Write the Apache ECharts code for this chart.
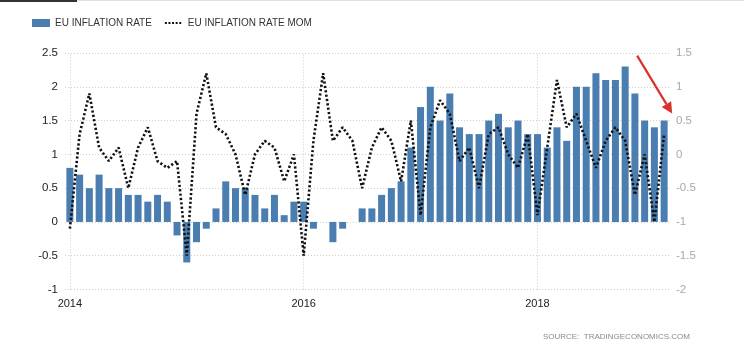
<!DOCTYPE html>
<html>
<head>
<meta charset="utf-8">
<script src="https://cdn.jsdelivr.net/npm/echarts@6/dist/echarts.min.js"></script>
<style>
html,body{margin:0;padding:0;background:#fff;}
#chart{width:744px;height:350px;}
</style>
</head>
<body>
<div id="chart"></div>
<script>
var months = [
 'Jan 2014','Feb 2014','Mar 2014','Apr 2014','May 2014','Jun 2014','Jul 2014','Aug 2014','Sep 2014','Oct 2014','Nov 2014','Dec 2014',
 'Jan 2015','Feb 2015','Mar 2015','Apr 2015','May 2015','Jun 2015','Jul 2015','Aug 2015','Sep 2015','Oct 2015','Nov 2015','Dec 2015',
 'Jan 2016','Feb 2016','Mar 2016','Apr 2016','May 2016','Jun 2016','Jul 2016','Aug 2016','Sep 2016','Oct 2016','Nov 2016','Dec 2016',
 'Jan 2017','Feb 2017','Mar 2017','Apr 2017','May 2017','Jun 2017','Jul 2017','Aug 2017','Sep 2017','Oct 2017','Nov 2017','Dec 2017',
 'Jan 2018','Feb 2018','Mar 2018','Apr 2018','May 2018','Jun 2018','Jul 2018','Aug 2018','Sep 2018','Oct 2018','Nov 2018','Dec 2018',
 'Jan 2019','Feb 2019'
];
var inflationRate = [
 0.8,0.7,0.5,0.7,0.5,0.5,0.4,0.4,0.3,0.4,0.3,-0.2,
 -0.6,-0.3,-0.1,0.2,0.6,0.5,0.5,0.4,0.2,0.4,0.1,0.3,
 0.3,-0.1,0.0,-0.3,-0.1,0.0,0.2,0.2,0.4,0.5,0.6,1.1,
 1.7,2.0,1.5,1.9,1.4,1.3,1.3,1.5,1.6,1.4,1.5,1.3,
 1.3,1.1,1.4,1.2,2.0,2.0,2.2,2.1,2.1,2.3,1.9,1.5,
 1.4,1.5
];
var inflationRateMom = [
 -1.1,0.3,0.9,0.1,-0.1,0.1,-0.5,0.1,0.4,-0.1,-0.2,-0.1,
 -1.5,0.6,1.2,0.4,0.3,0.0,-0.6,0.0,0.2,0.1,-0.4,0.0,
 -1.5,0.2,1.2,0.2,0.4,0.2,-0.5,0.1,0.4,0.2,-0.4,0.5,
 -0.9,0.4,0.8,0.6,-0.1,0.1,-0.5,0.3,0.4,0.0,-0.2,0.3,
 -0.9,0.1,1.1,0.4,0.6,0.2,-0.2,0.2,0.4,0.2,-0.6,0.0,
 -1.0,0.3
];
var tickMonths = ['Jan 2014','Jan 2016','Jan 2018'];
var tickLabels = ['2014','2016','2018'];
var seriesNames = ['EU INFLATION RATE','EU INFLATION RATE MOM'];
var sourceText = 'SOURCE:  TRADINGECONOMICS.COM';

var chart = echarts.init(document.getElementById('chart'), null, {renderer:'canvas'});
var FONT = '"Liberation Sans", Arial, sans-serif';
var gridLine = {show:true, lineStyle:{color:'#cfcfcf', type:[1,2], width:1}};

var option = {
  backgroundColor:'#ffffff',
  animation:false,
  textStyle:{fontFamily:FONT},
  title:[{
    text: sourceText,
    right: 49, top: 328,
    textStyle:{fontSize:8, fontWeight:'normal', color:'#8a8a8a', fontFamily:FONT}
  }],
  legend:{
    left: 27, top: 13,
    itemGap: 12,
    itemWidth: 18, itemHeight: 8,
    textStyle:{fontSize:10, color:'#333', fontFamily:FONT},
    data:[
      {name:seriesNames[0], icon:'rect'},
      {name:seriesNames[1], itemStyle:{opacity:0}, lineStyle:{color:'#111', width:2, type:[2,1.6]}}
    ]
  },
  grid:{left:65, right:75, top:53, bottom:60.5, containLabel:false},
  xAxis:{
    type:'category',
    data: months,
    boundaryGap:true,
    axisLine:{show:false},
    axisTick:{show:false},
    splitLine:{show:false},
    axisLabel:{
      interval:function(i, v){ return tickMonths.indexOf(v) >= 0; },
      formatter:function(v){ var k = tickMonths.indexOf(v); return k>=0 ? tickLabels[k] : ''; },
      color:'#222', fontSize:11, margin:9, fontFamily:FONT
    }
  },
  yAxis:[{
    type:'value', min:-1, max:2.5, interval:0.5, position:'left',
    axisLine:{show:false}, axisTick:{show:false},
    splitLine: gridLine,
    axisLabel:{color:'#222', fontSize:11.5, margin:7, fontFamily:FONT}
  },{
    type:'value', min:-2, max:1.5, interval:0.5, position:'right',
    axisLine:{show:false}, axisTick:{show:false},
    splitLine:{show:false},
    axisLabel:{color:'#a8a8a8', fontSize:11.5, margin:7, fontFamily:FONT}
  }],
  series:[{
    name: seriesNames[0],
    type:'bar',
    yAxisIndex:0,
    data: inflationRate,
    barWidth:7,
    itemStyle:{color:'#4a7db0'},
    z:2,
    markLine:{
      silent:true, symbol:['none','none'],
      label:{show:false},
      lineStyle:{color:'#cfcfcf', type:[1,2], width:1},
      z:1,
      data: tickMonths.map(function(m){ return {xAxis:m}; })
    }
  },{
    name: seriesNames[1],
    type:'line',
    yAxisIndex:1,
    data: inflationRateMom,
    symbol:'none',
    itemStyle:{color:'#111'},
    lineStyle:{color:'#111', width:2.6, type:[2.2,2.2]},
    z:5
  }]
};
chart.setOption(option);

// annotation arrow pointing to the latest bar
var last = months.length - 1;
var tip = chart.convertToPixel({xAxisIndex:0, yAxisIndex:0}, [months[last], inflationRate[last]]);
var tx = tip[0] + 8, ty = tip[1] - 7;
var sx = tx - 35, sy = ty - 58;
var ang = Math.atan2(ty - sy, tx - sx);
var hl = 11, hw = 5.5;
var bx = tx - hl*Math.cos(ang), by = ty - hl*Math.sin(ang);
chart.setOption({
  graphic:[
    {type:'rect', shape:{x:0,y:0,width:77,height:2}, style:{fill:'#333'}, silent:true},
    {type:'rect', shape:{x:77,y:0,width:667,height:1}, style:{fill:'#e2e2e2'}, silent:true},
    {type:'line', shape:{x1:sx,y1:sy,x2:bx,y2:by}, style:{stroke:'#d8312e', lineWidth:2.2}, silent:true, z:10},
    {type:'polygon', shape:{points:[
      [tx,ty],
      [bx + hw*Math.sin(ang), by - hw*Math.cos(ang)],
      [bx - hw*Math.sin(ang), by + hw*Math.cos(ang)]
    ]}, style:{fill:'#d8312e'}, silent:true, z:10}
  ]
});
</script>
</body>
</html>
